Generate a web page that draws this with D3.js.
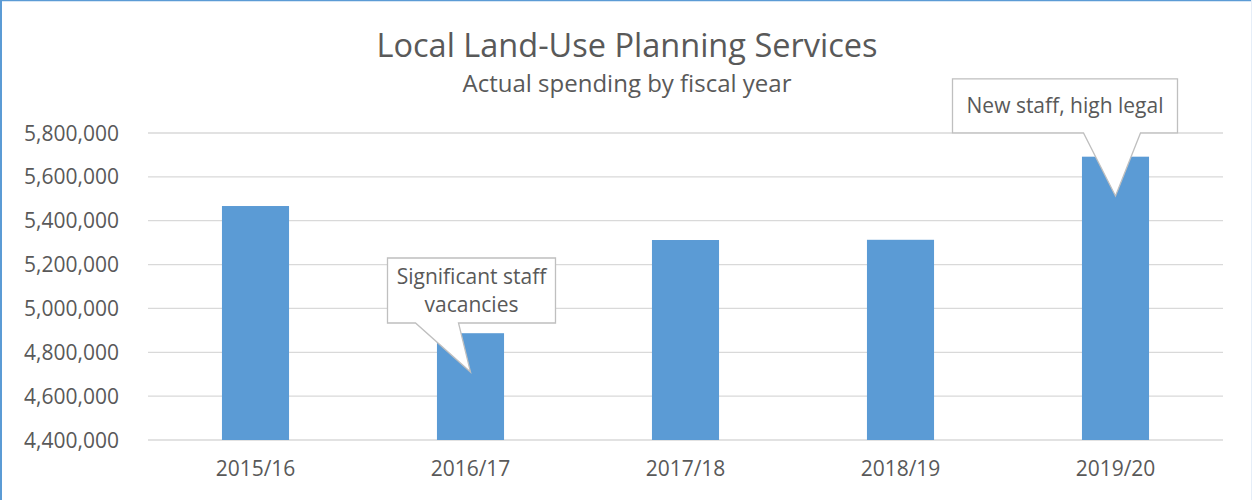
<!DOCTYPE html>
<html><head><meta charset="utf-8">
<script src="https://cdn.jsdelivr.net/npm/d3@7"></script>
<style>
html,body{margin:0;padding:0;background:#fff;}
svg{display:block;font-family:"Open Sans",sans-serif;}
</style></head>
<body>
<script>
const categories = ["2015/16","2016/17","2017/18","2018/19","2019/20"];
const spending = [5467000, 4887000, 5312000, 5313000, 5692000];
const yTicks = [4400000,4600000,4800000,5000000,5200000,5400000,5600000,5800000];
const titleText = "Local Land-Use Planning Services";
const subtitleText = "Actual spending by fiscal year";
const calloutCategories = ["2016/17","2019/20"];
const calloutValues = [4710000, 5513000];
const calloutLines = [["Significant staff","vacancies"],["New staff, high legal"]];

(function(){
const W = 1252, H = 500;
const svg = d3.select("body").append("svg").attr("width",W).attr("height",H);
svg.append("rect").attr("width",W).attr("height",H).attr("fill","#fff");
svg.append("line").attr("x1",0).attr("x2",W).attr("y1",0.5).attr("y2",0.5).attr("stroke","#5b9bd5").attr("stroke-width",1.5);
svg.append("line").attr("x1",1).attr("x2",1).attr("y1",0).attr("y2",H).attr("stroke","#5b9bd5").attr("stroke-width",2);
svg.append("line").attr("x1",W-0.5).attr("x2",W-0.5).attr("y1",0).attr("y2",H).attr("stroke","#e6eef8").attr("stroke-width",1);

const pL=148, pR=1223, pT=133, pB=440;
const x = d3.scaleBand().domain(categories).range([pL,pR]).paddingInner(0.688).paddingOuter(0.344);
const y = d3.scaleLinear().domain([4400000,5800000]).range([pB,pT]);

svg.append("g").selectAll("line").data(yTicks).join("line")
  .attr("x1",pL).attr("x2",pR).attr("y1",d=>y(d)).attr("y2",d=>y(d))
  .attr("stroke","#d9d9d9").attr("stroke-width",1.3);

const yAxis = d3.axisLeft(y).tickValues(yTicks).tickFormat(d3.format(",")).tickSize(0).tickPadding(29);
const ya = svg.append("g").attr("transform",`translate(${pL},0)`).call(yAxis);
ya.select(".domain").remove();
ya.selectAll("text").attr("fill","#595959").style("font-size","21px").style("font-family","Open Sans").attr("dy","0.34em");

svg.append("g").selectAll("rect").data(spending).join("rect")
  .attr("x",(d,i)=>x(categories[i])).attr("width",x.bandwidth())
  .attr("y",d=>y(d)).attr("height",d=>pB-y(d)).attr("fill","#5b9bd5");

const xAxis = d3.axisBottom(x).tickSize(0).tickPadding(21);
const xa = svg.append("g").attr("transform",`translate(0,${pB})`).call(xAxis);
xa.select(".domain").remove();
xa.selectAll("text").attr("fill","#595959").style("font-size","21px").style("font-family","Open Sans");

svg.append("text").attr("x",627).attr("y",57).attr("text-anchor","middle")
  .attr("fill","#595959").style("font-size","32.5px").text(titleText);
svg.append("text").attr("x",627).attr("y",92).attr("text-anchor","middle")
  .attr("fill","#595959").style("font-size","24px").text(subtitleText);

const boxSpecs = [
  {dx:-83, w:168, h:65, gap:49, b1:-55, b2:-12},
  {dx:-163, w:225, h:54, gap:63, b1:-32, b2:25}
];
calloutCategories.forEach((c,i)=>{
  const s = boxSpecs[i];
  const tx = x(c)+x.bandwidth()/2, ty = y(calloutValues[i]);
  const bl = tx+s.dx, br = bl+s.w, bb = ty-s.gap, bt = bb-s.h;
  const p = d3.path();
  p.moveTo(bl,bt); p.lineTo(br,bt); p.lineTo(br,bb); p.lineTo(tx+s.b2,bb);
  p.lineTo(tx,ty); p.lineTo(tx+s.b1,bb); p.lineTo(bl,bb); p.closePath();
  svg.append("path").attr("d",p.toString()).attr("fill","#fff").attr("stroke","#bfbfbf").attr("stroke-width",1.3);
  const lines = calloutLines[i];
  const cx=(bl+br)/2, lh=28;
  const startY = (bt+bb)/2 - (lines.length-1)*lh/2 + 7;
  lines.forEach((t,j)=>{
    svg.append("text").attr("x",cx).attr("y",startY+j*lh).attr("text-anchor","middle")
      .attr("fill","#595959").style("font-size","21px").text(t);
  });
});
})();
</script>
</body></html>
